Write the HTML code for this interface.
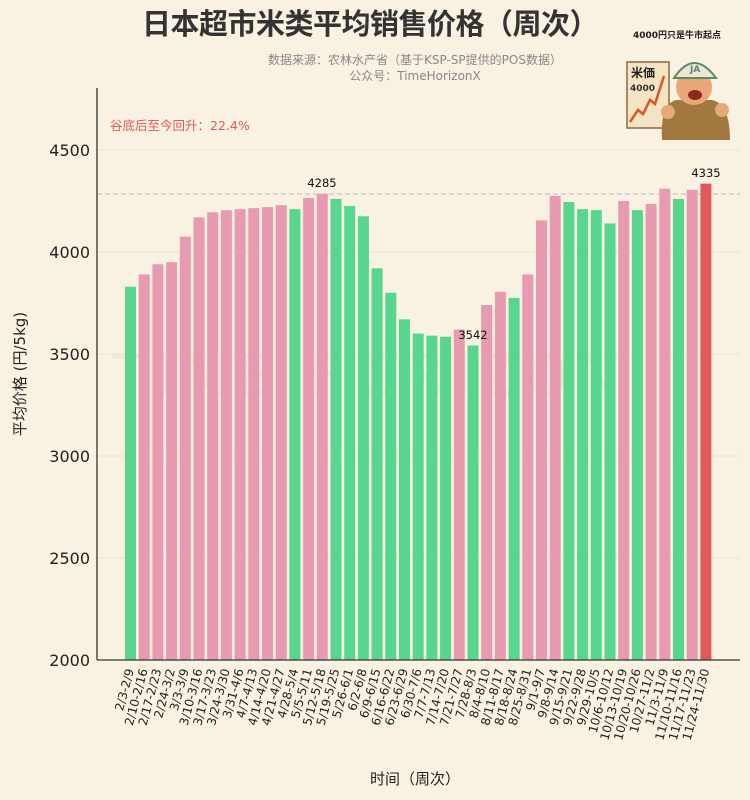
<!DOCTYPE html>
<html><head><meta charset="utf-8"><style>
body{margin:0;background:#f9f1e1;}
svg{display:block;font-family:"DejaVu Sans","Noto Sans CJK SC",sans-serif;}
</style></head><body>
<svg width="750" height="800" viewBox="0 0 750 800">
<rect width="750" height="800" fill="#f9f1e1"/>
<text x="370" y="34" text-anchor="middle" font-size="29" font-weight="600" fill="#333" font-family="Noto Sans CJK SC, sans-serif" letter-spacing="-0.5">日本超市米类平均销售价格（周次）</text>
<text x="415" y="64" text-anchor="middle" font-size="12" fill="#888">数据来源：农林水产省（基于KSP-SP提供的POS数据）</text>
<text x="415" y="80" text-anchor="middle" font-size="12" fill="#888">公众号：TimeHorizonX</text>
<text x="370" y="395" text-anchor="middle" font-size="56" fill="#000" opacity="0.035" letter-spacing="8">TIME HORIZON</text>
<g stroke="#ece2cc" stroke-width="1">
<line x1="97" y1="150" x2="740" y2="150"/><line x1="97" y1="252" x2="740" y2="252"/><line x1="97" y1="354" x2="740" y2="354"/><line x1="97" y1="456" x2="740" y2="456"/><line x1="97" y1="558" x2="740" y2="558"/>
</g>
<line x1="97" y1="194" x2="740" y2="194" stroke="#bbb" stroke-dasharray="5,3"/>
<g transform="translate(0,660) scale(1,-0.204)">
<rect x="125.0" width="11" height="1830" fill="#58d68d"/>
<rect x="138.7" width="11" height="1890" fill="#e89bb0"/>
<rect x="152.4" width="11" height="1940" fill="#e89bb0"/>
<rect x="166.1" width="11" height="1950" fill="#e89bb0"/>
<rect x="179.8" width="11" height="2075" fill="#e89bb0"/>
<rect x="193.5" width="11" height="2170" fill="#e89bb0"/>
<rect x="207.2" width="11" height="2195" fill="#e89bb0"/>
<rect x="220.9" width="11" height="2205" fill="#e89bb0"/>
<rect x="234.6" width="11" height="2210" fill="#e89bb0"/>
<rect x="248.3" width="11" height="2215" fill="#e89bb0"/>
<rect x="262.0" width="11" height="2220" fill="#e89bb0"/>
<rect x="275.7" width="11" height="2230" fill="#e89bb0"/>
<rect x="289.4" width="11" height="2210" fill="#58d68d"/>
<rect x="303.1" width="11" height="2265" fill="#e89bb0"/>
<rect x="316.8" width="11" height="2285" fill="#e89bb0"/>
<rect x="330.5" width="11" height="2260" fill="#58d68d"/>
<rect x="344.2" width="11" height="2225" fill="#58d68d"/>
<rect x="357.9" width="11" height="2175" fill="#58d68d"/>
<rect x="371.6" width="11" height="1920" fill="#58d68d"/>
<rect x="385.3" width="11" height="1800" fill="#58d68d"/>
<rect x="399.0" width="11" height="1670" fill="#58d68d"/>
<rect x="412.7" width="11" height="1600" fill="#58d68d"/>
<rect x="426.4" width="11" height="1590" fill="#58d68d"/>
<rect x="440.1" width="11" height="1585" fill="#58d68d"/>
<rect x="453.8" width="11" height="1620" fill="#e89bb0"/>
<rect x="467.5" width="11" height="1542" fill="#58d68d"/>
<rect x="481.2" width="11" height="1740" fill="#e89bb0"/>
<rect x="494.9" width="11" height="1805" fill="#e89bb0"/>
<rect x="508.6" width="11" height="1775" fill="#58d68d"/>
<rect x="522.3" width="11" height="1890" fill="#e89bb0"/>
<rect x="536.0" width="11" height="2155" fill="#e89bb0"/>
<rect x="549.7" width="11" height="2275" fill="#e89bb0"/>
<rect x="563.4" width="11" height="2245" fill="#58d68d"/>
<rect x="577.1" width="11" height="2210" fill="#58d68d"/>
<rect x="590.8" width="11" height="2205" fill="#58d68d"/>
<rect x="604.5" width="11" height="2140" fill="#58d68d"/>
<rect x="618.2" width="11" height="2250" fill="#e89bb0"/>
<rect x="631.9" width="11" height="2205" fill="#58d68d"/>
<rect x="645.6" width="11" height="2235" fill="#e89bb0"/>
<rect x="659.3" width="11" height="2310" fill="#e89bb0"/>
<rect x="673.0" width="11" height="2260" fill="#58d68d"/>
<rect x="686.7" width="11" height="2305" fill="#e89bb0"/>
<rect x="700.4" width="11" height="2335" fill="#e05a5a"/>
</g>
<text x="322" y="187" text-anchor="middle" font-size="11.5" fill="#111">4285</text>
<text x="473" y="339" text-anchor="middle" font-size="11.5" fill="#111">3542</text>
<text x="706" y="177" text-anchor="middle" font-size="11.5" fill="#111">4335</text>
<text x="110" y="130" font-size="12.5" fill="#e05a5a">谷底后至今回升：22.4%</text>
<line x1="97" y1="88" x2="97" y2="660" stroke="#333" stroke-width="1.3"/>
<line x1="97" y1="660" x2="740" y2="660" stroke="#333" stroke-width="1.3"/>
<g font-size="16" fill="#222" text-anchor="end">
<text x="90" y="156">4500</text><text x="90" y="258">4000</text><text x="90" y="360">3500</text><text x="90" y="462">3000</text><text x="90" y="564">2500</text><text x="90" y="666">2000</text>
</g>
<text transform="translate(25,374) rotate(-90)" text-anchor="middle" font-size="15" fill="#222">平均价格 (円/5kg)</text>
<text x="415" y="784" text-anchor="middle" font-size="15" fill="#222">时间（周次）</text>
<g font-size="12" fill="#222" text-anchor="end">
<text transform="translate(134,670) rotate(-75)">2/3-2/9</text>
<text transform="translate(147.7,670) rotate(-75)">2/10-2/16</text>
<text transform="translate(161.4,670) rotate(-75)">2/17-2/23</text>
<text transform="translate(175.1,670) rotate(-75)">2/24-3/2</text>
<text transform="translate(188.8,670) rotate(-75)">3/3-3/9</text>
<text transform="translate(202.5,670) rotate(-75)">3/10-3/16</text>
<text transform="translate(216.2,670) rotate(-75)">3/17-3/23</text>
<text transform="translate(229.9,670) rotate(-75)">3/24-3/30</text>
<text transform="translate(243.6,670) rotate(-75)">3/31-4/6</text>
<text transform="translate(257.3,670) rotate(-75)">4/7-4/13</text>
<text transform="translate(271,670) rotate(-75)">4/14-4/20</text>
<text transform="translate(284.7,670) rotate(-75)">4/21-4/27</text>
<text transform="translate(298.4,670) rotate(-75)">4/28-5/4</text>
<text transform="translate(312.1,670) rotate(-75)">5/5-5/11</text>
<text transform="translate(325.8,670) rotate(-75)">5/12-5/18</text>
<text transform="translate(339.5,670) rotate(-75)">5/19-5/25</text>
<text transform="translate(353.2,670) rotate(-75)">5/26-6/1</text>
<text transform="translate(366.9,670) rotate(-75)">6/2-6/8</text>
<text transform="translate(380.6,670) rotate(-75)">6/9-6/15</text>
<text transform="translate(394.3,670) rotate(-75)">6/16-6/22</text>
<text transform="translate(408,670) rotate(-75)">6/23-6/29</text>
<text transform="translate(421.7,670) rotate(-75)">6/30-7/6</text>
<text transform="translate(435.4,670) rotate(-75)">7/7-7/13</text>
<text transform="translate(449.1,670) rotate(-75)">7/14-7/20</text>
<text transform="translate(462.8,670) rotate(-75)">7/21-7/27</text>
<text transform="translate(476.5,670) rotate(-75)">7/28-8/3</text>
<text transform="translate(490.2,670) rotate(-75)">8/4-8/10</text>
<text transform="translate(503.9,670) rotate(-75)">8/11-8/17</text>
<text transform="translate(517.6,670) rotate(-75)">8/18-8/24</text>
<text transform="translate(531.3,670) rotate(-75)">8/25-8/31</text>
<text transform="translate(545,670) rotate(-75)">9/1-9/7</text>
<text transform="translate(558.7,670) rotate(-75)">9/8-9/14</text>
<text transform="translate(572.4,670) rotate(-75)">9/15-9/21</text>
<text transform="translate(586.1,670) rotate(-75)">9/22-9/28</text>
<text transform="translate(599.8,670) rotate(-75)">9/29-10/5</text>
<text transform="translate(613.5,670) rotate(-75)">10/6-10/12</text>
<text transform="translate(627.2,670) rotate(-75)">10/13-10/19</text>
<text transform="translate(640.9,670) rotate(-75)">10/20-10/26</text>
<text transform="translate(654.6,670) rotate(-75)">10/27-11/2</text>
<text transform="translate(668.3,670) rotate(-75)">11/3-11/9</text>
<text transform="translate(682,670) rotate(-75)">11/10-11/16</text>
<text transform="translate(695.7,670) rotate(-75)">11/17-11/23</text>
<text transform="translate(709.4,670) rotate(-75)">11/24-11/30</text>
</g>
<text x="677" y="38" text-anchor="middle" font-size="9" font-weight="bold" fill="#222">4000円只是牛市起点</text>
<rect x="627" y="62" width="42" height="66" fill="#f4e4c4" stroke="#8a6a40" stroke-width="1.5"/>
<text x="631" y="77" font-size="12" font-weight="bold" fill="#222">米価</text>
<text x="630" y="91" font-size="9" font-weight="bold" fill="#333">4000</text>
<polyline points="630,122 638,110 643,114 650,100 655,104 664,76" fill="none" stroke="#d9582a" stroke-width="2.5"/>
<path d="M662,140 Q660,104 676,100 L712,100 Q730,104 730,140 Z" fill="#a07840"/>
<circle cx="694" cy="87" r="18" fill="#e8a878"/>
<path d="M674,78 Q694,48 716,78 Z" fill="#ece6d4" stroke="#5a8a6a" stroke-width="2"/>
<text x="690" y="72" font-size="9" font-weight="bold" fill="#5a8a6a">JA</text>
<ellipse cx="695" cy="95" rx="7" ry="5" fill="#8a2a20"/>
<circle cx="668" cy="112" r="7" fill="#e8a878"/>
<circle cx="722" cy="110" r="7" fill="#e8a878"/>
</svg>
</body></html>
